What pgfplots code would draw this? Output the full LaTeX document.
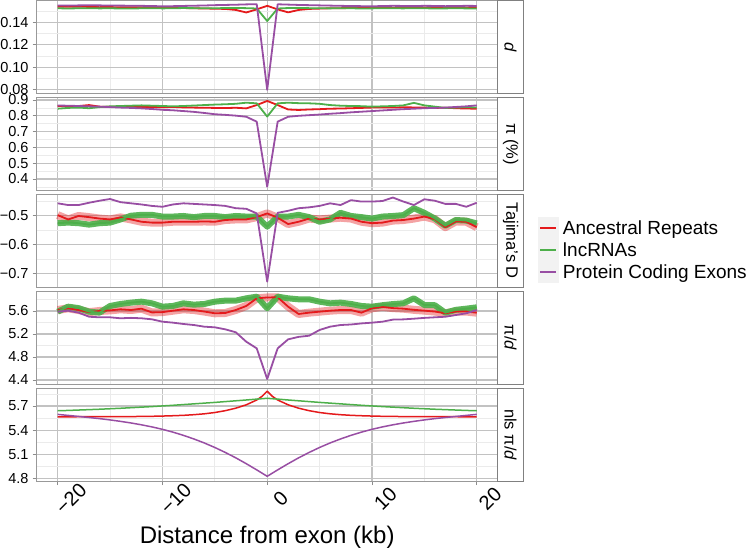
\documentclass[border=0pt]{standalone}
\usepackage{fontspec}
\setmainfont{Liberation Sans}
\usepackage{pgfplots}
\usepackage{pgfplotstable}
\pgfplotsset{compat=1.18}
\definecolor{cAR}{HTML}{E41A1C}
\definecolor{cLNC}{HTML}{4DAF4A}
\definecolor{cPCE}{HTML}{984EA3}

\pgfplotstableread{
kb ar lnc pce
-20 0.1545 0.1530 0.1555
-19 0.1543 0.1528 0.1554
-18 0.1545 0.1530 0.1556
-17 0.1542 0.1531 0.1557
-16 0.1540 0.1529 0.1556
-15 0.1541 0.1530 0.1555
-14 0.1538 0.1528 0.1554
-13 0.1540 0.1527 0.1553
-12 0.1538 0.1530 0.1552
-11 0.1536 0.1531 0.1550
-10 0.1538 0.1529 0.1548
-9 0.1535 0.1530 0.1549
-8 0.1532 0.1532 0.1551
-7 0.1530 0.1531 0.1553
-6 0.1528 0.1530 0.1555
-5 0.1526 0.1530 0.1558
-4 0.1524 0.1532 0.1560
-3 0.1515 0.1533 0.1562
-2 0.1492 0.1531 0.1565
-1 0.1520 0.1528 0.1567
0 0.1552 0.1415 0.0795
1 0.1520 0.1528 0.1566
2 0.1493 0.1532 0.1563
3 0.1515 0.1533 0.1560
4 0.1524 0.1531 0.1558
5 0.1527 0.1530 0.1556
6 0.1530 0.1529 0.1554
7 0.1531 0.1531 0.1552
8 0.1532 0.1530 0.1550
9 0.1533 0.1528 0.1549
10 0.1532 0.1529 0.1548
11 0.1534 0.1531 0.1550
12 0.1535 0.1530 0.1552
13 0.1536 0.1529 0.1551
14 0.1535 0.1531 0.1550
15 0.1537 0.1530 0.1552
16 0.1538 0.1528 0.1551
17 0.1537 0.1529 0.1549
18 0.1538 0.1530 0.1550
19 0.1537 0.1529 0.1552
20 0.1538 0.1528 0.1551
}\tabD

\pgfplotstableread{
kb ar lnc pce
-20 0.862 0.845 0.865
-19 0.860 0.850 0.864
-18 0.862 0.852 0.862
-17 0.868 0.848 0.860
-16 0.858 0.855 0.858
-15 0.857 0.860 0.855
-14 0.856 0.862 0.852
-13 0.858 0.864 0.850
-12 0.855 0.866 0.847
-11 0.856 0.864 0.843
-10 0.854 0.862 0.838
-9 0.856 0.860 0.835
-8 0.853 0.862 0.830
-7 0.852 0.865 0.825
-6 0.851 0.868 0.818
-5 0.850 0.871 0.810
-4 0.849 0.873 0.806
-3 0.851 0.876 0.801
-2 0.847 0.883 0.794
-1 0.868 0.879 0.763
0 0.894 0.795 0.351
1 0.868 0.879 0.763
2 0.840 0.883 0.794
3 0.837 0.880 0.800
4 0.840 0.879 0.804
5 0.842 0.876 0.808
6 0.845 0.868 0.813
7 0.846 0.864 0.817
8 0.848 0.862 0.822
9 0.850 0.861 0.826
10 0.852 0.858 0.830
11 0.853 0.860 0.834
12 0.852 0.862 0.838
13 0.854 0.866 0.842
14 0.853 0.882 0.845
15 0.852 0.866 0.848
16 0.850 0.858 0.850
17 0.851 0.850 0.852
18 0.848 0.852 0.856
19 0.846 0.855 0.860
20 0.845 0.852 0.866
}\tabPi

\pgfplotstableread{
kb ar lnc pce
-20 -0.498 -0.526 -0.457
-19 -0.513 -0.524 -0.463
-18 -0.501 -0.526 -0.463
-17 -0.505 -0.531 -0.455
-16 -0.510 -0.526 -0.448
-15 -0.513 -0.524 -0.442
-14 -0.506 -0.513 -0.453
-13 -0.513 -0.500 -0.457
-12 -0.521 -0.497 -0.461
-11 -0.524 -0.497 -0.466
-10 -0.524 -0.503 -0.469
-9 -0.521 -0.503 -0.461
-8 -0.521 -0.501 -0.457
-7 -0.521 -0.505 -0.459
-6 -0.520 -0.501 -0.461
-5 -0.521 -0.501 -0.463
-4 -0.515 -0.505 -0.466
-3 -0.513 -0.501 -0.474
-2 -0.513 -0.503 -0.476
-1 -0.505 -0.503 -0.492
0 -0.492 -0.538 -0.729
1 -0.507 -0.503 -0.490
2 -0.529 -0.503 -0.483
3 -0.521 -0.497 -0.474
4 -0.510 -0.505 -0.471
5 -0.513 -0.521 -0.466
6 -0.510 -0.513 -0.457
7 -0.507 -0.490 -0.463
8 -0.510 -0.501 -0.446
9 -0.521 -0.505 -0.451
10 -0.526 -0.510 -0.451
11 -0.524 -0.503 -0.449
12 -0.517 -0.501 -0.437
13 -0.515 -0.498 -0.451
14 -0.510 -0.474 -0.463
15 -0.503 -0.490 -0.443
16 -0.512 -0.510 -0.448
17 -0.540 -0.535 -0.459
18 -0.520 -0.515 -0.459
19 -0.521 -0.517 -0.469
20 -0.540 -0.527 -0.455
}\tabTD

\pgfplotstableread{
kb ar lnc pce
-20 5.617 5.588 5.588
-19 5.647 5.675 5.605
-18 5.617 5.650 5.571
-17 5.580 5.588 5.500
-16 5.600 5.571 5.490
-15 5.610 5.687 5.490
-14 5.629 5.722 5.473
-13 5.617 5.745 5.480
-12 5.640 5.762 5.473
-11 5.575 5.733 5.455
-10 5.580 5.675 5.414
-9 5.605 5.687 5.397
-8 5.629 5.733 5.374
-7 5.617 5.710 5.356
-6 5.590 5.722 5.327
-5 5.560 5.762 5.316
-4 5.565 5.780 5.281
-3 5.617 5.780 5.230
-2 5.687 5.820 5.066
-1 5.820 5.849 4.950
0 5.835 5.647 4.417
1 5.838 5.849 4.950
2 5.675 5.820 5.107
3 5.548 5.803 5.150
4 5.571 5.803 5.170
5 5.588 5.762 5.270
6 5.605 5.733 5.327
7 5.617 5.745 5.356
8 5.617 5.722 5.365
9 5.571 5.687 5.384
10 5.647 5.675 5.397
11 5.670 5.700 5.414
12 5.650 5.720 5.450
13 5.640 5.734 5.454
14 5.620 5.820 5.466
15 5.606 5.704 5.480
16 5.590 5.700 5.490
17 5.560 5.570 5.500
18 5.590 5.620 5.530
19 5.590 5.640 5.560
20 5.570 5.664 5.617
}\tabPD

\pgfplotstableread{
kb ar lnc pce
-20 5.566 5.641 5.596
-19 5.566 5.645 5.583
-18 5.5665 5.650 5.570
-17 5.5667 5.655 5.557
-16 5.567 5.660 5.543
-15 5.5675 5.666 5.527
-14 5.568 5.672 5.509
-13 5.569 5.679 5.489
-12 5.570 5.686 5.466
-11 5.572 5.693 5.440
-10 5.575 5.701 5.410
-9 5.579 5.709 5.375
-8 5.584 5.718 5.335
-7 5.592 5.727 5.290
-6 5.603 5.736 5.240
-5 5.619 5.745 5.184
-4 5.642 5.755 5.122
-3 5.673 5.765 5.055
-2 5.715 5.775 4.982
-1 5.775 5.786 4.905
-0.5 5.820 5.791 4.865
0 5.885 5.796 4.825
0.5 5.820 5.791 4.865
1 5.775 5.786 4.905
2 5.715 5.775 4.982
3 5.673 5.765 5.055
4 5.642 5.755 5.122
5 5.619 5.745 5.184
6 5.603 5.736 5.240
7 5.592 5.727 5.290
8 5.584 5.718 5.335
9 5.579 5.709 5.375
10 5.575 5.701 5.410
11 5.572 5.693 5.440
12 5.570 5.686 5.466
13 5.569 5.679 5.489
14 5.568 5.672 5.509
15 5.5675 5.666 5.527
16 5.567 5.660 5.543
17 5.5667 5.655 5.557
18 5.5665 5.650 5.570
19 5.566 5.645 5.583
20 5.566 5.641 5.596
}\tabNLS

\pgfplotsset{
  panel/.style={
    scale only axis, width=461pt, height=93.1pt,
    xmin=-22, xmax=22,
    xtick={-20,-10,0,10,20}, minor xtick={-15,-5,5,15},
    grid=both,
    major grid style={draw=black!24, line width=1.1pt},
    minor grid style={draw=black!8, line width=0.7pt},
    axis line style={draw=black!40, line width=0.7pt},
    tick align=outside, ytick pos=left, xtick pos=bottom,
    major tick length=4pt, minor tick length=0pt,
    tick style={draw=black!45, line width=0.8pt},
    yticklabel style={font=\fontsize{14.5}{17}\selectfont, text=black, anchor=east, inner sep=0pt, xshift=-4pt},
  },
  upper/.style={xticklabels={}, xtick style={draw=none}},
  arline/.style={draw=cAR, line width=1.8pt, line join=round, no markers},
  lncline/.style={draw=cLNC, line width=1.8pt, line join=round, no markers},
  pceline/.style={draw=cPCE, line width=1.8pt, line join=round, no markers},
  arband/.style={draw=cAR, draw opacity=0.4, line width=8pt, line join=round, no markers, forget plot},
  lncband/.style={draw=cLNC, draw opacity=0.9, line width=6pt, line join=round, no markers, forget plot},
}

\begin{document}
\begin{tikzpicture}
\path[use as bounding box] (0pt,0pt) rectangle (747pt,-551pt);

% Panel 1: d
\begin{axis}[panel, upper, at={(36.7pt,-0.5pt)}, anchor=north west,
  ymin=0.0761, ymax=0.1600,
  ytick={0.08,0.10,0.12,0.14}, yticklabels={0.08,0.10,0.12,0.14},
  minor ytick={0.09,0.11,0.13,0.15}]
\addplot[arline] table[x=kb,y=ar]{\tabD};
\addplot[lncline] table[x=kb,y=lnc]{\tabD};
\addplot[pceline] table[x=kb,y=pce]{\tabD};
\end{axis}

% Panel 2: pi
\begin{axis}[panel, upper, at={(36.7pt,-97.4pt)}, anchor=north west,
  ymin=0.3272, ymax=0.9165,
  ytick={0.4,0.5,0.6,0.7,0.8,0.9}, yticklabels={0.4,0.5,0.6,0.7,0.8,0.9},
  minor ytick={0.35,0.45,0.55,0.65,0.75,0.85}]
\addplot[arline] table[x=kb,y=ar]{\tabPi};
\addplot[lncline] table[x=kb,y=lnc]{\tabPi};
\addplot[pceline] table[x=kb,y=pce]{\tabPi};
\end{axis}

% Panel 3: Tajima's D
\begin{axis}[panel, upper, at={(36.7pt,-194.3pt)}, anchor=north west,
  ymin=-0.749, ymax=-0.4257,
  ytick={-0.7,-0.6,-0.5}, yticklabels={−0.7,−0.6,−0.5},
  minor ytick={-0.65,-0.55,-0.45},
  legend style={at={(rel axis cs:1.0874,0.753)}, anchor=north west, draw=none, fill=none,
    inner sep=0pt, outer sep=0pt, row sep=0pt, column sep=4pt,
    font=\fontsize{19}{22}\selectfont, nodes={inner sep=0pt, outer sep=0pt}},
  legend cell align=left,
  legend image code/.code={\fill[black!5,draw=none] (0pt,-11pt) rectangle (21pt,11pt);
    \draw[line width=1.6pt] (2.5pt,0pt) -- (18.5pt,0pt);}]
\addplot[arband] table[x=kb,y=ar]{\tabTD};
\addplot[lncband] table[x=kb,y=lnc]{\tabTD};
\addplot[arline, forget plot] table[x=kb,y=ar]{\tabTD};
\addplot[lncline, forget plot] table[x=kb,y=lnc]{\tabTD};
\addplot[pceline, forget plot] table[x=kb,y=pce]{\tabTD};
\addlegendimage{arline}\addlegendentry{Ancestral Repeats}
\addlegendimage{lncline}\addlegendentry{lncRNAs}
\addlegendimage{pceline}\addlegendentry{Protein Coding Exons}
\end{axis}

% Panel 4: pi/d
\begin{axis}[panel, upper, at={(36.7pt,-291.2pt)}, anchor=north west,
  ymin=4.325, ymax=5.944,
  ytick={4.4,4.8,5.2,5.6}, yticklabels={4.4,4.8,5.2,5.6},
  minor ytick={4.6,5.0,5.4,5.8}]
\addplot[arband] table[x=kb,y=ar]{\tabPD};
\addplot[lncband] table[x=kb,y=lnc]{\tabPD};
\addplot[arline] table[x=kb,y=ar]{\tabPD};
\addplot[lncline] table[x=kb,y=lnc]{\tabPD};
\addplot[pceline] table[x=kb,y=pce]{\tabPD};
\end{axis}

% Panel 5: nls pi/d
\begin{axis}[panel, at={(36.7pt,-388.1pt)}, anchor=north west,
  ymin=4.764, ymax=5.923,
  ytick={4.8,5.1,5.4,5.7}, yticklabels={4.8,5.1,5.4,5.7},
  minor ytick={4.95,5.25,5.55,5.85},
  xticklabels={−20,−10,0,10,20},
  xticklabel style={font=\fontsize{20}{23}\selectfont, text=black, rotate=45, anchor=center, inner sep=0pt, yshift=-19pt},
  xlabel={Distance from exon (kb)},
  xlabel style={font=\fontsize{24}{28}\selectfont, at={(axis description cs:0.5,-0.664)}, anchor=base, inner sep=0pt}]
\addplot[arline, line width=1.5pt] table[x=kb,y=ar]{\tabNLS};
\addplot[lncline, line width=1.5pt] table[x=kb,y=lnc]{\tabNLS};
\addplot[pceline, line width=1.5pt] table[x=kb,y=pce]{\tabNLS};
\end{axis}

% facet strips
\foreach \t/\lab in {0.5/{\textit{d}}, 97.4/{π (\%)}, 194.3/{Tajima's D}, 291.2/{π/\textit{d}}, 388.1/{nls π/\textit{d}}}{
  \draw[black!50, line width=0.7pt, fill=white] (497.7pt,-\t pt) rectangle (523.5pt,-\t pt-93.1pt);
  \node[rotate=-90, font=\fontsize{16.5}{19}\selectfont, inner sep=0pt] at (510.6pt,-\t pt-46.55pt) {\lab};
}
\end{tikzpicture}
\end{document}
